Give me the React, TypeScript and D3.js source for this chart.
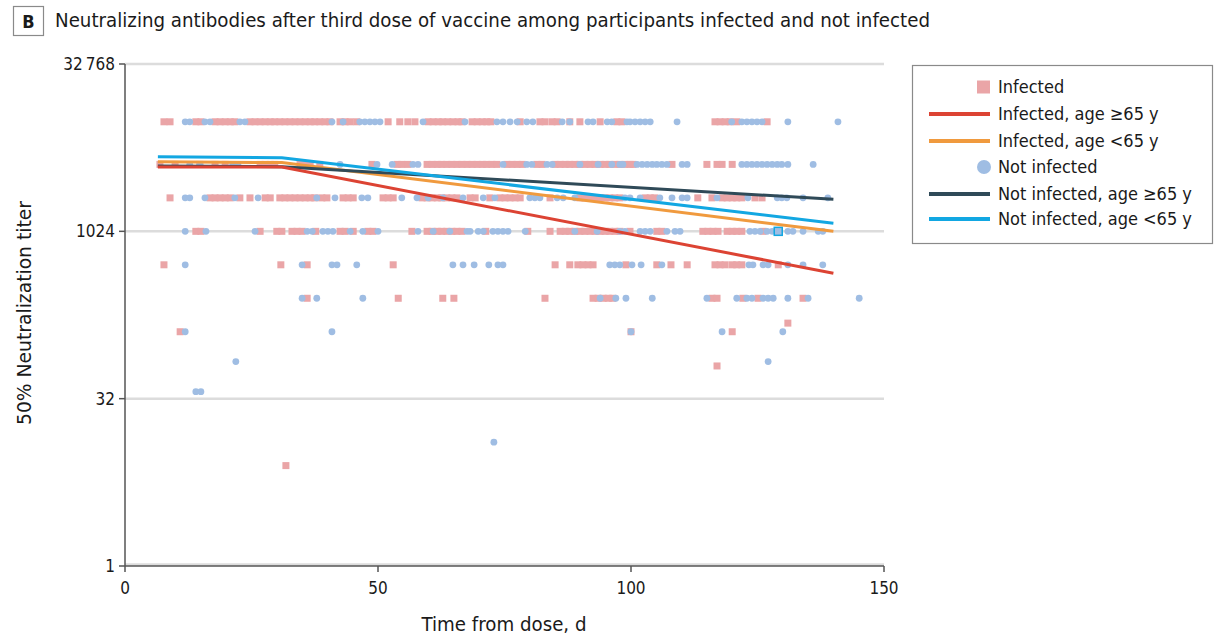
import React from "react";
import * as d3 from "d3";

// ---------- DATA ----------
const xTicks = [0, 50, 100, 150];
const yTicks = [1, 32, 1024, 32768];
const yTickLabels = ["1", "32", "1024", "32\u2009768"];
const gridTiters = [32, 1024, 32768];

// Infected participants: titer level -> days
const infectedRows = [
  { titer: 9900, days: [7.7, 8.9, 14.0, 15.0, 17.8, 18.8, 19.8, 20.8, 21.7, 24.7, 25.7, 26.7, 27.7, 28.7, 29.6, 30.6, 31.6, 32.6, 33.6, 34.6, 35.6, 36.6, 37.5, 38.5, 39.5, 40.5, 42.5, 43.5, 44.5, 45.8, 52.0, 54.3, 55.9, 57.3, 59.9, 60.9, 61.9, 62.8, 63.8, 64.8, 65.8, 66.6, 68.6, 69.6, 70.6, 71.5, 72.3, 78.1, 82.0, 83.0, 84.4, 85.4, 87.9, 89.9, 93.9, 97.2, 98.2, 116.6, 117.6, 118.6, 119.6, 120.9, 126.9] },
  { titer: 4096, days: [6.9, 9.9, 14.8, 17.8, 19.8, 26.7, 27.7, 28.7, 29.6, 34.6, 35.6, 36.6, 38.5, 48.8, 53.8, 54.7, 55.9, 59.7, 60.7, 61.7, 62.6, 63.6, 64.6, 65.6, 66.6, 67.6, 68.6, 69.6, 70.6, 71.5, 72.5, 73.5, 75.5, 76.5, 77.5, 78.5, 81.4, 82.4, 85.0, 86.0, 87.0, 87.9, 88.9, 89.9, 90.9, 91.9, 92.9, 93.9, 94.9, 95.8, 96.8, 97.8, 98.8, 99.8, 100.4, 108.1, 115.0, 117.0, 118.0, 120.0] },
  { titer: 2048, days: [8.9, 16.8, 17.8, 18.8, 19.8, 20.8, 22.7, 24.7, 27.7, 28.7, 30.6, 31.6, 32.6, 33.6, 34.6, 35.6, 36.6, 37.5, 38.9, 39.9, 43.1, 44.1, 45.1, 51.0, 52.0, 53.0, 58.7, 59.7, 60.7, 61.7, 62.6, 63.6, 64.6, 65.6, 68.2, 69.2, 72.1, 74.1, 75.1, 76.1, 77.1, 78.1, 84.0, 89.9, 90.9, 91.9, 92.9, 93.9, 94.9, 95.8, 96.8, 97.8, 102.8, 103.8, 104.7, 113.2, 116.0, 118.0, 119.0, 120.0, 120.9, 121.9, 124.5, 125.9] },
  { titer: 1024, days: [14.0, 15.0, 26.7, 30.0, 31.0, 33.0, 34.0, 35.0, 37.7, 42.5, 43.5, 45.1, 48.0, 49.0, 56.7, 59.7, 60.7, 61.7, 62.6, 63.6, 64.6, 65.6, 66.6, 71.3, 79.6, 84.0, 86.0, 87.0, 87.9, 88.9, 89.9, 90.9, 91.9, 92.9, 93.9, 94.9, 95.8, 96.8, 97.8, 99.8, 105.1, 106.1, 114.2, 115.2, 116.2, 117.2, 119.0, 120.0, 120.9, 121.9, 126.1] },
  { titer: 512, days: [7.7, 30.8, 36.0, 53.0, 85.0, 87.9, 89.5, 90.5, 91.5, 92.5, 99.0, 105.1, 107.9, 111.1, 116.6, 117.6, 118.6, 120.0, 120.9, 121.9, 129.1] },
  { titer: 256, days: [36.0, 54.0, 62.8, 65.0, 83.0, 92.5, 93.5, 94.5, 95.5, 96.4, 116.0, 117.0, 122.1, 125.1, 134.0] },
  { titer: 128, days: [10.9, 100.0, 120.0] },
  { titer: 153, days: [131.0] },
  { titer: 63, days: [117.0] },
  { titer: 8, days: [31.8] },
];

// Not infected participants: titer level -> days
const notInfectedRows = [
  { titer: 9900, days: [11.9, 12.8, 15.8, 16.8, 22.7, 23.7, 40.9, 43.1, 46.4, 47.4, 48.4, 49.4, 50.4, 58.9, 67.2, 73.5, 74.7, 76.1, 77.5, 79.4, 80.6, 86.4, 87.9, 91.5, 92.5, 95.3, 96.2, 99.2, 99.8, 100.8, 101.8, 102.8, 103.8, 109.1, 119.9, 121.9, 122.9, 123.9, 124.9, 125.9, 131.0, 140.9] },
  { titer: 4096, days: [12.8, 14.8, 21.3, 22.3, 42.5, 49.8, 52.8, 56.9, 57.9, 74.7, 79.4, 80.4, 83.4, 84.4, 89.9, 93.5, 96.2, 97.8, 98.4, 101.2, 102.2, 103.2, 104.2, 105.1, 106.1, 107.1, 110.1, 111.1, 121.9, 122.9, 123.9, 124.9, 125.9, 126.9, 127.9, 128.9, 129.8, 131.0, 136.0] },
  { titer: 2048, days: [11.9, 12.8, 15.8, 21.7, 26.3, 37.9, 41.5, 46.8, 48.0, 54.7, 57.7, 59.9, 62.8, 66.8, 70.8, 73.1, 80.0, 81.0, 82.0, 85.4, 86.6, 88.9, 98.8, 99.8, 101.8, 105.7, 108.1, 110.1, 111.1, 117.0, 123.1, 128.9, 129.8, 130.8, 134.0, 138.9] },
  { titer: 1024, days: [11.9, 16.0, 25.7, 36.0, 37.0, 39.1, 40.1, 41.1, 44.5, 47.0, 50.0, 57.9, 60.9, 64.2, 67.6, 68.2, 69.8, 70.8, 72.7, 73.7, 74.7, 75.7, 79.1, 88.9, 93.3, 97.8, 98.8, 101.8, 102.8, 103.8, 107.1, 108.7, 109.7, 123.5, 124.5, 125.5, 126.9, 127.9, 131.0, 132.0, 134.0, 137.0, 137.9] },
  { titer: 512, days: [11.9, 35.0, 40.9, 41.9, 45.8, 64.8, 66.8, 69.0, 71.9, 73.7, 74.7, 95.8, 96.8, 97.8, 100.2, 102.0, 106.1, 123.3, 124.1, 126.1, 127.1, 131.0, 134.0, 137.9] },
  { titer: 256, days: [35.0, 37.9, 47.0, 93.9, 97.0, 99.0, 104.2, 115.0, 120.9, 122.9, 123.9, 126.1, 127.1, 128.1, 131.0, 135.0, 145.1] },
  { titer: 128, days: [11.9, 40.9, 100.0, 118.0, 130.0] },
  { titer: 69, days: [21.9, 127.1] },
  { titer: 37, days: [14.0, 15.0] },
  { titer: 13, days: [72.9] },
];

const highlightedPoint = { day: 129.1, titer: 1024 };

// Fitted trajectories: knot days and fitted titers
const fitDays = [6.5, 31, 140];
const fitInfectedOld = [3880, 3880, 430];
const fitInfectedYoung = [4330, 4250, 1024];
const fitNotInfectedOld = [3960, 3900, 1990];
const fitNotInfectedYoung = [4800, 4700, 1210];

const seriesLabels = [
  "Infected",
  "Infected, age \u226565 y",
  "Infected, age <65 y",
  "Not infected",
  "Not infected, age \u226565 y",
  "Not infected, age <65 y",
];

const title = "Neutralizing antibodies after third dose of vaccine among participants infected and not infected";

// ---------- STYLE ----------
const W = 1217;
const H = 642;
const FONT = "'Liberation Sans Narrow', 'DejaVu Sans Condensed', 'Roboto Condensed', 'Open Sans', sans-serif";
const PINK = "#eaa5a7";
const BLUE = "#9fbde3";
const RED = "#dc4333";
const ORANGE = "#f09a3e";
const DARK = "#2f4a58";
const CYAN = "#12a7e2";
const GRID = "#dcdcdc";
const AXIS = "#555";
const TEXT = "#1a1a1a";

export default function App() {
  const x = d3.scaleLinear().domain([0, 150]).range([125, 884]);
  const y = d3.scaleLog().base(2).domain([1, 32768]).range([566, 64]);

  const line = d3
    .line<[number, number]>()
    .x((d) => x(d[0]))
    .y((d) => y(d[1]));

  const fits = [
    { vals: fitInfectedYoung, color: ORANGE },
    { vals: fitNotInfectedOld, color: DARK },
    { vals: fitNotInfectedYoung, color: CYAN },
    { vals: fitInfectedOld, color: RED },
  ];

  const sq = 7;
  const r = 3.4;

  const legendX = 912;
  const legendY = 65;
  const legendRows = [87, 114, 141, 167, 194, 219];
  const legendColors = [PINK, RED, ORANGE, BLUE, DARK, CYAN];
  const legendKinds = ["square", "line", "line", "circle", "line", "line"];

  return (
    <svg
      width={W}
      height={H}
      style={{ position: "fixed", left: 0, top: 0, background: "#fff" }}
      fontFamily={FONT}
    >
      <rect x={0} y={0} width={W} height={H} fill="#fff" />
      {/* Title */}
      <rect x={13.5} y={6.5} width={30} height={29} fill="#fff" stroke="#8a8a8a" strokeWidth={1.2} />
      <text x={28.5} y={28} textAnchor="middle" fontSize={18} fontWeight="bold" fill={TEXT}>
        B
      </text>
      <text x={55} y={27} fontSize={19} fill={TEXT} textLength={875} lengthAdjust="spacingAndGlyphs">
        {title}
      </text>

      {/* Gridlines */}
      {gridTiters.map((t) => (
        <line key={"g" + t} x1={x(0)} x2={x(150)} y1={y(t)} y2={y(t)} stroke={GRID} strokeWidth={2.5} />
      ))}
      <line x1={x(0)} x2={x(150)} y1={y(1) - 1.5} y2={y(1) - 1.5} stroke={GRID} strokeWidth={2.5} />

      {/* Infected squares */}
      {infectedRows.map((row) =>
        row.days.map((d, i) => (
          <rect
            key={"i" + row.titer + "-" + i}
            x={x(d) - sq / 2}
            y={y(row.titer) - sq / 2}
            width={sq}
            height={sq}
            fill={PINK}
          />
        ))
      )}
      {/* Not infected circles */}
      {notInfectedRows.map((row) =>
        row.days.map((d, i) => (
          <circle key={"n" + row.titer + "-" + i} cx={x(d)} cy={y(row.titer)} r={r} fill={BLUE} />
        ))
      )}
      <rect
        x={x(highlightedPoint.day) - 4}
        y={y(highlightedPoint.titer) - 4}
        width={8}
        height={8}
        fill={BLUE}
        stroke={CYAN}
        strokeWidth={1.5}
      />

      {/* Fit lines */}
      {fits.map((f, i) => (
        <path
          key={"f" + i}
          d={line(fitDays.map((d, j) => [d, f.vals[j]] as [number, number])) || ""}
          fill="none"
          stroke={f.color}
          strokeWidth={3}
        />
      ))}

      {/* Y axis */}
      <line x1={x(0)} x2={x(0)} y1={y(32768)} y2={y(1)} stroke={AXIS} strokeWidth={1.5} />
      {yTicks.map((t, i) => (
        <g key={"yt" + t}>
          <line x1={x(0) - 6} x2={x(0)} y1={y(t)} y2={y(t)} stroke={AXIS} strokeWidth={1.5} />
          <text x={x(0) - 10} y={y(t) + 6} textAnchor="end" fontSize={17} fill={TEXT}>
            {yTickLabels[i]}
          </text>
        </g>
      ))}
      <text
        transform={`translate(31, 313) rotate(-90)`}
        textAnchor="middle"
        fontSize={19}
        fill={TEXT}
        textLength={224}
        lengthAdjust="spacingAndGlyphs"
      >
        50% Neutralization titer
      </text>

      {/* X axis */}
      <line x1={x(0)} x2={x(150)} y1={y(1)} y2={y(1)} stroke={AXIS} strokeWidth={1.5} />
      {xTicks.map((t) => (
        <g key={"xt" + t}>
          <line x1={x(t)} x2={x(t)} y1={y(1)} y2={y(1) + 6} stroke={AXIS} strokeWidth={1.5} />
          <text x={x(t)} y={y(1) + 28} textAnchor="middle" fontSize={17} fill={TEXT}>
            {t}
          </text>
        </g>
      ))}
      <text x={504} y={631} textAnchor="middle" fontSize={19} fill={TEXT} textLength={165} lengthAdjust="spacingAndGlyphs">
        Time from dose, d
      </text>

      {/* Legend */}
      <rect x={legendX + 0.5} y={legendY + 0.5} width={300} height={178} fill="#fff" stroke="#8a8a8a" strokeWidth={1.2} />
      {seriesLabels.map((lab, i) => {
        const cy = legendRows[i];
        const kind = legendKinds[i];
        return (
          <g key={"lg" + i}>
            {kind === "square" && (
              <rect x={977} y={cy - 6.5} width={13} height={13} fill={legendColors[i]} />
            )}
            {kind === "circle" && <circle cx={984} cy={cy} r={7} fill={legendColors[i]} />}
            {kind === "line" && (
              <line x1={929} x2={990} y1={cy} y2={cy} stroke={legendColors[i]} strokeWidth={4} />
            )}
            <text x={998} y={cy + 6} fontSize={18} fill={TEXT}>
              {lab}
            </text>
          </g>
        );
      })}
    </svg>
  );
}
